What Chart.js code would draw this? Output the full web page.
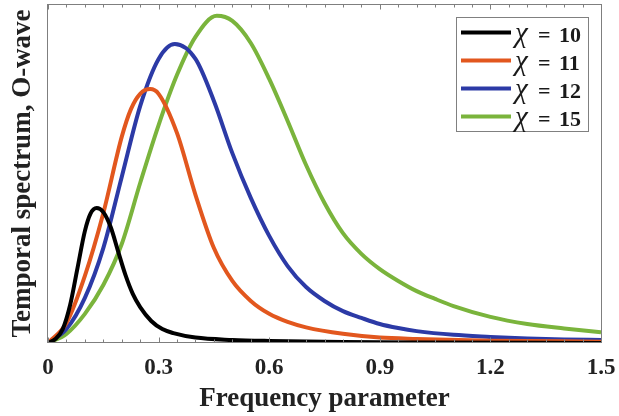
<!DOCTYPE html>
<html><head><meta charset="utf-8">
<script src="https://cdn.jsdelivr.net/npm/chart.js@4/dist/chart.umd.min.js"></script>
<style>html,body{margin:0;padding:0;background:#fff;}#wrap{width:619px;height:416px;}</style>
</head><body><div id="wrap"><canvas id="c" width="619" height="416"></canvas></div>
<script>
const chiValues = ['10', '11', '12', '15'];
const xTickLabels = ['0', '0.3', '0.6', '0.9', '1.2', '1.5'];
const xTitle = 'Frequency parameter';
const yTitle = 'Temporal spectrum, O-wave';

const chi10X = [0, 0.02, 0.04, 0.06, 0.08, 0.1, 0.115, 0.132, 0.15, 0.17, 0.19, 0.21, 0.23, 0.25, 0.28, 0.31, 0.34, 0.4, 0.5, 0.6, 0.8, 1.0, 1.5];
const chi10Y = [0, 0.012, 0.041, 0.112, 0.221, 0.330, 0.381, 0.398, 0.386, 0.342, 0.271, 0.201, 0.145, 0.106, 0.065, 0.041, 0.029, 0.016, 0.009, 0.006, 0.003, 0.0015, 0];

const chi11X = [0, 0.05, 0.1, 0.15, 0.2, 0.225, 0.25, 0.277, 0.3, 0.35, 0.4, 0.45, 0.5, 0.55, 0.6, 0.65, 0.7, 0.8, 0.9, 1.0, 1.2, 1.5];
const chi11Y = [0, 0.059, 0.198, 0.383, 0.608, 0.690, 0.735, 0.749, 0.735, 0.619, 0.437, 0.280, 0.183, 0.124, 0.086, 0.062, 0.046, 0.027, 0.016, 0.012, 0.007, 0.004];

const chi12X = [0, 0.05, 0.1, 0.15, 0.2, 0.25, 0.3, 0.344, 0.4, 0.45, 0.5, 0.55, 0.6, 0.65, 0.7, 0.75, 0.8, 0.85, 0.9, 0.95, 1.0, 1.1, 1.2, 1.3, 1.4, 1.5];
const chi12Y = [0, 0.041, 0.133, 0.280, 0.490, 0.699, 0.838, 0.882, 0.838, 0.714, 0.560, 0.428, 0.316, 0.227, 0.165, 0.124, 0.094, 0.074, 0.056, 0.044, 0.035, 0.024, 0.018, 0.013, 0.010, 0.009];

const chi15X = [0, 0.05, 0.1, 0.15, 0.2, 0.25, 0.3, 0.35, 0.4, 0.458, 0.5, 0.55, 0.6, 0.65, 0.7, 0.75, 0.8, 0.85, 0.9, 0.95, 1.0, 1.05, 1.1, 1.2, 1.3, 1.4, 1.5];
const chi15Y = [0, 0.027, 0.086, 0.171, 0.292, 0.472, 0.643, 0.791, 0.903, 0.965, 0.950, 0.885, 0.779, 0.655, 0.525, 0.413, 0.324, 0.263, 0.218, 0.183, 0.153, 0.130, 0.109, 0.077, 0.056, 0.043, 0.032];

const seriesX = [chi10X, chi11X, chi12X, chi15X];
const seriesY = [chi10Y, chi11Y, chi12Y, chi15Y];
const colors = ['#000000', '#E2571E', '#2C3AA6', '#7AB43C'];

const SERIF = '"Liberation Serif", "Times New Roman", serif';

const datasets = seriesX.map((xs, k) => ({
  label: 'χ = ' + chiValues[k],
  data: xs.map((x, i) => ({x: x, y: seriesY[k][i]})),
  borderColor: colors[k],
  backgroundColor: colors[k],
  borderWidth: 4,
  pointRadius: 0,
  fill: false,
  cubicInterpolationMode: 'monotone'
}));

const framePlugin = {
  id: 'frame',
  afterDatasetsDraw(chart) {
    const {ctx, chartArea: a, scales: {x}} = chart;
    ctx.save();
    ctx.strokeStyle = '#7f7f7f';
    ctx.lineWidth = 1;
    const L = Math.round(a.left) - 0.5, R = Math.round(a.right) + 0.5;
    const T = Math.round(a.top) + 0.5, B = Math.round(a.bottom) - 0.5;
    ctx.strokeRect(L, T, R - L, B - T);
    ctx.beginPath();
    for (let i = 0; i <= 30; i++) {
      const px = Math.round(x.getPixelForValue(i * 0.05)) + 0.5;
      const len = (i % 6 === 0) ? 5 : 3;
      ctx.moveTo(px, B); ctx.lineTo(px, B - len);
      ctx.moveTo(px, T); ctx.lineTo(px, T + len);
    }
    ctx.stroke();

    // legend box
    const bx = 456, by = 17, bw = 132, bh = 114;
    ctx.fillStyle = '#ffffff';
    ctx.fillRect(bx, by, bw, bh);
    ctx.strokeStyle = '#808080';
    ctx.lineWidth = 1;
    ctx.strokeRect(bx + 0.5, by + 0.5, bw, bh);
    chart.data.datasets.forEach((ds, k) => {
      const y = 32.5 + k * 28;
      ctx.strokeStyle = ds.borderColor;
      ctx.lineWidth = 4;
      ctx.beginPath(); ctx.moveTo(461, y); ctx.lineTo(511, y); ctx.stroke();
      ctx.fillStyle = '#1a1a1a';
      ctx.textBaseline = 'alphabetic';
      ctx.textAlign = 'left';
      ctx.font = 'italic 29px ' + SERIF;
      ctx.fillText('χ', 515, y + 9);
      ctx.font = 'bold 22px ' + SERIF;
      ctx.fillText('=', 538, y + 9.5);
      ctx.fillText(chiValues[k], 559, y + 9.5);
    });
    ctx.restore();
  }
};

new Chart(document.getElementById('c'), {
  type: 'line',
  data: {datasets: datasets},
  plugins: [framePlugin],
  options: {
    responsive: false,
    animation: false,
    events: [],
    layout: {padding: {top: 4, right: 18, left: 0, bottom: 0}},
    plugins: {legend: {display: false}, tooltip: {enabled: false}},
    scales: {
      x: {
        type: 'linear', min: 0, max: 1.5,
        grid: {display: false, drawTicks: false},
        border: {display: false},
        ticks: {
          stepSize: 0.3, padding: 11, maxRotation: 0,
          color: '#222',
          font: {family: SERIF, size: 23, weight: 'bold'},
          callback: (v) => xTickLabels[Math.round(v / 0.3)]
        },
        title: {display: true, text: xTitle, color: '#222', padding: {top: 0, bottom: 1},
          font: {family: SERIF, size: 27, weight: 'bold'}},
        afterFit: (s) => { s.height = 73; s.paddingLeft = 0; s.paddingRight = 0; }
      },
      y: {
        type: 'linear', min: 0, max: 1,
        grid: {display: false, drawTicks: false},
        border: {display: false},
        ticks: {display: false},
        title: {display: true, text: yTitle, color: '#222', padding: {top: 7, bottom: 0},
          font: {family: SERIF, size: 27, weight: 'bold'}},
        afterFit: (s) => { s.width = 48; }
      }
    }
  }
});
</script></body></html>
